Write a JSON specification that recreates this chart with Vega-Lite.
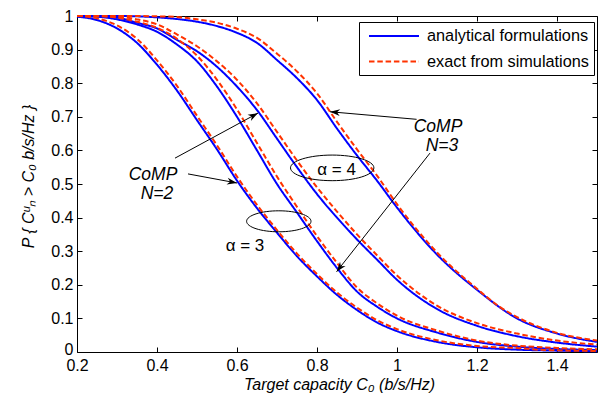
{
  "$schema": "https://vega.github.io/schema/vega-lite/v6.json",
  "width": 520,
  "height": 336,
  "autosize": {"type": "none"},
  "padding": {"left": 77, "top": 16, "right": 12, "bottom": 46},
  "background": "white",
  "config": {
    "font": "Liberation Sans",
    "view": {"stroke": "black", "strokeWidth": 1},
    "axis": {
      "grid": false,
      "domain": false,
      "labelFont": "Liberation Sans",
      "labelFontSize": 16,
      "labelColor": "black",
      "labelFlush": false,
      "labelOverlap": false,
      "tickColor": "black",
      "tickSize": -5,
      "titleFont": "Liberation Sans",
      "titleFontSize": 16,
      "titleFontStyle": "italic",
      "titleFontWeight": "normal",
      "titleColor": "black"
    },
    "legend": {
      "orient": "none",
      "legendX": 282,
      "legendY": 6,
      "strokeColor": "black",
      "fillColor": "white",
      "padding": 5,
      "symbolType": "M-0.5,0H5.75",
      "symbolSize": 256,
      "symbolStrokeWidth": 2,
      "labelFont": "Liberation Sans",
      "labelFontSize": 16.3,
      "labelLimit": 400,
      "labelColor": "black",
      "labelOffset": 45,
      "rowPadding": 7.5
    }
  },
  "resolve": {"axis": {"x": "independent", "y": "independent"}},
  "layer": [
    {
      "data": {
        "values": [
          {"curve": "a3N2", "type": "analytical formulations", "x": 0.2, "y": 0.998},
          {"curve": "a3N2", "type": "analytical formulations", "x": 0.25, "y": 0.988},
          {"curve": "a3N2", "type": "analytical formulations", "x": 0.3, "y": 0.963},
          {"curve": "a3N2", "type": "analytical formulations", "x": 0.35, "y": 0.92},
          {"curve": "a3N2", "type": "analytical formulations", "x": 0.4, "y": 0.855},
          {"curve": "a3N2", "type": "analytical formulations", "x": 0.45, "y": 0.778},
          {"curve": "a3N2", "type": "analytical formulations", "x": 0.5, "y": 0.69},
          {"curve": "a3N2", "type": "analytical formulations", "x": 0.55, "y": 0.603},
          {"curve": "a3N2", "type": "analytical formulations", "x": 0.6, "y": 0.51},
          {"curve": "a3N2", "type": "analytical formulations", "x": 0.65, "y": 0.428},
          {"curve": "a3N2", "type": "analytical formulations", "x": 0.7, "y": 0.355},
          {"curve": "a3N2", "type": "analytical formulations", "x": 0.75, "y": 0.285},
          {"curve": "a3N2", "type": "analytical formulations", "x": 0.8, "y": 0.225},
          {"curve": "a3N2", "type": "analytical formulations", "x": 0.85, "y": 0.17},
          {"curve": "a3N2", "type": "analytical formulations", "x": 0.9, "y": 0.125},
          {"curve": "a3N2", "type": "analytical formulations", "x": 0.95, "y": 0.088},
          {"curve": "a3N2", "type": "analytical formulations", "x": 1.0, "y": 0.062},
          {"curve": "a3N2", "type": "analytical formulations", "x": 1.1, "y": 0.03},
          {"curve": "a3N2", "type": "analytical formulations", "x": 1.2, "y": 0.014},
          {"curve": "a3N2", "type": "analytical formulations", "x": 1.3, "y": 0.007},
          {"curve": "a3N2", "type": "analytical formulations", "x": 1.4, "y": 0.004},
          {"curve": "a3N2", "type": "analytical formulations", "x": 1.5, "y": 0.002},

          {"curve": "a3N3", "type": "analytical formulations", "x": 0.2, "y": 1.0},
          {"curve": "a3N3", "type": "analytical formulations", "x": 0.25, "y": 0.998},
          {"curve": "a3N3", "type": "analytical formulations", "x": 0.3, "y": 0.99},
          {"curve": "a3N3", "type": "analytical formulations", "x": 0.35, "y": 0.975},
          {"curve": "a3N3", "type": "analytical formulations", "x": 0.4, "y": 0.953},
          {"curve": "a3N3", "type": "analytical formulations", "x": 0.45, "y": 0.915},
          {"curve": "a3N3", "type": "analytical formulations", "x": 0.5, "y": 0.865},
          {"curve": "a3N3", "type": "analytical formulations", "x": 0.55, "y": 0.79},
          {"curve": "a3N3", "type": "analytical formulations", "x": 0.6, "y": 0.7},
          {"curve": "a3N3", "type": "analytical formulations", "x": 0.65, "y": 0.6},
          {"curve": "a3N3", "type": "analytical formulations", "x": 0.7, "y": 0.5},
          {"curve": "a3N3", "type": "analytical formulations", "x": 0.75, "y": 0.415},
          {"curve": "a3N3", "type": "analytical formulations", "x": 0.8, "y": 0.33},
          {"curve": "a3N3", "type": "analytical formulations", "x": 0.85, "y": 0.25},
          {"curve": "a3N3", "type": "analytical formulations", "x": 0.9, "y": 0.18},
          {"curve": "a3N3", "type": "analytical formulations", "x": 0.95, "y": 0.135},
          {"curve": "a3N3", "type": "analytical formulations", "x": 1.0, "y": 0.1},
          {"curve": "a3N3", "type": "analytical formulations", "x": 1.1, "y": 0.058},
          {"curve": "a3N3", "type": "analytical formulations", "x": 1.2, "y": 0.03},
          {"curve": "a3N3", "type": "analytical formulations", "x": 1.3, "y": 0.016},
          {"curve": "a3N3", "type": "analytical formulations", "x": 1.4, "y": 0.009},
          {"curve": "a3N3", "type": "analytical formulations", "x": 1.5, "y": 0.006},

          {"curve": "a4N2", "type": "analytical formulations", "x": 0.2, "y": 1.0},
          {"curve": "a4N2", "type": "analytical formulations", "x": 0.25, "y": 0.999},
          {"curve": "a4N2", "type": "analytical formulations", "x": 0.3, "y": 0.995},
          {"curve": "a4N2", "type": "analytical formulations", "x": 0.35, "y": 0.98},
          {"curve": "a4N2", "type": "analytical formulations", "x": 0.4, "y": 0.963},
          {"curve": "a4N2", "type": "analytical formulations", "x": 0.45, "y": 0.929},
          {"curve": "a4N2", "type": "analytical formulations", "x": 0.5, "y": 0.895},
          {"curve": "a4N2", "type": "analytical formulations", "x": 0.55, "y": 0.849},
          {"curve": "a4N2", "type": "analytical formulations", "x": 0.6, "y": 0.79},
          {"curve": "a4N2", "type": "analytical formulations", "x": 0.65, "y": 0.72},
          {"curve": "a4N2", "type": "analytical formulations", "x": 0.7, "y": 0.635},
          {"curve": "a4N2", "type": "analytical formulations", "x": 0.75, "y": 0.55},
          {"curve": "a4N2", "type": "analytical formulations", "x": 0.8, "y": 0.47},
          {"curve": "a4N2", "type": "analytical formulations", "x": 0.85, "y": 0.4},
          {"curve": "a4N2", "type": "analytical formulations", "x": 0.9, "y": 0.335},
          {"curve": "a4N2", "type": "analytical formulations", "x": 0.95, "y": 0.275},
          {"curve": "a4N2", "type": "analytical formulations", "x": 1.0, "y": 0.215},
          {"curve": "a4N2", "type": "analytical formulations", "x": 1.1, "y": 0.128},
          {"curve": "a4N2", "type": "analytical formulations", "x": 1.2, "y": 0.078},
          {"curve": "a4N2", "type": "analytical formulations", "x": 1.3, "y": 0.047},
          {"curve": "a4N2", "type": "analytical formulations", "x": 1.4, "y": 0.028},
          {"curve": "a4N2", "type": "analytical formulations", "x": 1.5, "y": 0.016},

          {"curve": "a4N3", "type": "analytical formulations", "x": 0.2, "y": 1.0},
          {"curve": "a4N3", "type": "analytical formulations", "x": 0.3, "y": 1.0},
          {"curve": "a4N3", "type": "analytical formulations", "x": 0.35, "y": 0.999},
          {"curve": "a4N3", "type": "analytical formulations", "x": 0.4, "y": 0.996},
          {"curve": "a4N3", "type": "analytical formulations", "x": 0.45, "y": 0.991},
          {"curve": "a4N3", "type": "analytical formulations", "x": 0.5, "y": 0.983},
          {"curve": "a4N3", "type": "analytical formulations", "x": 0.55, "y": 0.97},
          {"curve": "a4N3", "type": "analytical formulations", "x": 0.6, "y": 0.95},
          {"curve": "a4N3", "type": "analytical formulations", "x": 0.65, "y": 0.92},
          {"curve": "a4N3", "type": "analytical formulations", "x": 0.7, "y": 0.869},
          {"curve": "a4N3", "type": "analytical formulations", "x": 0.75, "y": 0.815},
          {"curve": "a4N3", "type": "analytical formulations", "x": 0.8, "y": 0.75},
          {"curve": "a4N3", "type": "analytical formulations", "x": 0.85, "y": 0.665},
          {"curve": "a4N3", "type": "analytical formulations", "x": 0.9, "y": 0.585},
          {"curve": "a4N3", "type": "analytical formulations", "x": 0.95, "y": 0.51},
          {"curve": "a4N3", "type": "analytical formulations", "x": 1.0, "y": 0.43},
          {"curve": "a4N3", "type": "analytical formulations", "x": 1.1, "y": 0.29},
          {"curve": "a4N3", "type": "analytical formulations", "x": 1.2, "y": 0.185},
          {"curve": "a4N3", "type": "analytical formulations", "x": 1.3, "y": 0.1},
          {"curve": "a4N3", "type": "analytical formulations", "x": 1.4, "y": 0.055},
          {"curve": "a4N3", "type": "analytical formulations", "x": 1.5, "y": 0.03},

          {"curve": "a3N2s", "type": "exact from simulations", "x": 0.2, "y": 1.0},
          {"curve": "a3N2s", "type": "exact from simulations", "x": 0.25, "y": 0.993},
          {"curve": "a3N2s", "type": "exact from simulations", "x": 0.3, "y": 0.972},
          {"curve": "a3N2s", "type": "exact from simulations", "x": 0.35, "y": 0.932},
          {"curve": "a3N2s", "type": "exact from simulations", "x": 0.4, "y": 0.868},
          {"curve": "a3N2s", "type": "exact from simulations", "x": 0.45, "y": 0.792},
          {"curve": "a3N2s", "type": "exact from simulations", "x": 0.5, "y": 0.703},
          {"curve": "a3N2s", "type": "exact from simulations", "x": 0.55, "y": 0.615},
          {"curve": "a3N2s", "type": "exact from simulations", "x": 0.6, "y": 0.522},
          {"curve": "a3N2s", "type": "exact from simulations", "x": 0.65, "y": 0.438},
          {"curve": "a3N2s", "type": "exact from simulations", "x": 0.7, "y": 0.363},
          {"curve": "a3N2s", "type": "exact from simulations", "x": 0.75, "y": 0.293},
          {"curve": "a3N2s", "type": "exact from simulations", "x": 0.8, "y": 0.232},
          {"curve": "a3N2s", "type": "exact from simulations", "x": 0.85, "y": 0.177},
          {"curve": "a3N2s", "type": "exact from simulations", "x": 0.9, "y": 0.132},
          {"curve": "a3N2s", "type": "exact from simulations", "x": 0.95, "y": 0.095},
          {"curve": "a3N2s", "type": "exact from simulations", "x": 1.0, "y": 0.068},
          {"curve": "a3N2s", "type": "exact from simulations", "x": 1.1, "y": 0.035},
          {"curve": "a3N2s", "type": "exact from simulations", "x": 1.2, "y": 0.018},
          {"curve": "a3N2s", "type": "exact from simulations", "x": 1.25, "y": 0.014},
          {"curve": "a3N2s", "type": "exact from simulations", "x": 1.3, "y": 0.012},
          {"curve": "a3N2s", "type": "exact from simulations", "x": 1.35, "y": 0.007},
          {"curve": "a3N2s", "type": "exact from simulations", "x": 1.4, "y": 0.005},
          {"curve": "a3N2s", "type": "exact from simulations", "x": 1.5, "y": 0.003},

          {"curve": "a3N3s", "type": "exact from simulations", "x": 0.2, "y": 1.0},
          {"curve": "a3N3s", "type": "exact from simulations", "x": 0.25, "y": 1.0},
          {"curve": "a3N3s", "type": "exact from simulations", "x": 0.3, "y": 0.995},
          {"curve": "a3N3s", "type": "exact from simulations", "x": 0.35, "y": 0.983},
          {"curve": "a3N3s", "type": "exact from simulations", "x": 0.4, "y": 0.965},
          {"curve": "a3N3s", "type": "exact from simulations", "x": 0.45, "y": 0.932},
          {"curve": "a3N3s", "type": "exact from simulations", "x": 0.5, "y": 0.882},
          {"curve": "a3N3s", "type": "exact from simulations", "x": 0.55, "y": 0.81},
          {"curve": "a3N3s", "type": "exact from simulations", "x": 0.6, "y": 0.722},
          {"curve": "a3N3s", "type": "exact from simulations", "x": 0.65, "y": 0.622},
          {"curve": "a3N3s", "type": "exact from simulations", "x": 0.7, "y": 0.522},
          {"curve": "a3N3s", "type": "exact from simulations", "x": 0.75, "y": 0.432},
          {"curve": "a3N3s", "type": "exact from simulations", "x": 0.8, "y": 0.345},
          {"curve": "a3N3s", "type": "exact from simulations", "x": 0.85, "y": 0.265},
          {"curve": "a3N3s", "type": "exact from simulations", "x": 0.9, "y": 0.192},
          {"curve": "a3N3s", "type": "exact from simulations", "x": 0.95, "y": 0.145},
          {"curve": "a3N3s", "type": "exact from simulations", "x": 1.0, "y": 0.108},
          {"curve": "a3N3s", "type": "exact from simulations", "x": 1.1, "y": 0.064},
          {"curve": "a3N3s", "type": "exact from simulations", "x": 1.2, "y": 0.034},
          {"curve": "a3N3s", "type": "exact from simulations", "x": 1.3, "y": 0.019},
          {"curve": "a3N3s", "type": "exact from simulations", "x": 1.4, "y": 0.012},
          {"curve": "a3N3s", "type": "exact from simulations", "x": 1.5, "y": 0.008},

          {"curve": "a4N2s", "type": "exact from simulations", "x": 0.2, "y": 1.0},
          {"curve": "a4N2s", "type": "exact from simulations", "x": 0.3, "y": 0.998},
          {"curve": "a4N2s", "type": "exact from simulations", "x": 0.35, "y": 0.99},
          {"curve": "a4N2s", "type": "exact from simulations", "x": 0.4, "y": 0.975},
          {"curve": "a4N2s", "type": "exact from simulations", "x": 0.45, "y": 0.945},
          {"curve": "a4N2s", "type": "exact from simulations", "x": 0.5, "y": 0.91},
          {"curve": "a4N2s", "type": "exact from simulations", "x": 0.55, "y": 0.865},
          {"curve": "a4N2s", "type": "exact from simulations", "x": 0.6, "y": 0.81},
          {"curve": "a4N2s", "type": "exact from simulations", "x": 0.65, "y": 0.74},
          {"curve": "a4N2s", "type": "exact from simulations", "x": 0.7, "y": 0.655},
          {"curve": "a4N2s", "type": "exact from simulations", "x": 0.75, "y": 0.57},
          {"curve": "a4N2s", "type": "exact from simulations", "x": 0.8, "y": 0.49},
          {"curve": "a4N2s", "type": "exact from simulations", "x": 0.85, "y": 0.418},
          {"curve": "a4N2s", "type": "exact from simulations", "x": 0.9, "y": 0.35},
          {"curve": "a4N2s", "type": "exact from simulations", "x": 0.95, "y": 0.288},
          {"curve": "a4N2s", "type": "exact from simulations", "x": 1.0, "y": 0.228},
          {"curve": "a4N2s", "type": "exact from simulations", "x": 1.1, "y": 0.138},
          {"curve": "a4N2s", "type": "exact from simulations", "x": 1.2, "y": 0.086},
          {"curve": "a4N2s", "type": "exact from simulations", "x": 1.3, "y": 0.055},
          {"curve": "a4N2s", "type": "exact from simulations", "x": 1.4, "y": 0.034},
          {"curve": "a4N2s", "type": "exact from simulations", "x": 1.5, "y": 0.022},

          {"curve": "a4N3s", "type": "exact from simulations", "x": 0.2, "y": 1.0},
          {"curve": "a4N3s", "type": "exact from simulations", "x": 0.35, "y": 1.0},
          {"curve": "a4N3s", "type": "exact from simulations", "x": 0.4, "y": 0.999},
          {"curve": "a4N3s", "type": "exact from simulations", "x": 0.45, "y": 0.997},
          {"curve": "a4N3s", "type": "exact from simulations", "x": 0.5, "y": 0.99},
          {"curve": "a4N3s", "type": "exact from simulations", "x": 0.55, "y": 0.98},
          {"curve": "a4N3s", "type": "exact from simulations", "x": 0.6, "y": 0.962},
          {"curve": "a4N3s", "type": "exact from simulations", "x": 0.65, "y": 0.935},
          {"curve": "a4N3s", "type": "exact from simulations", "x": 0.7, "y": 0.888},
          {"curve": "a4N3s", "type": "exact from simulations", "x": 0.75, "y": 0.835},
          {"curve": "a4N3s", "type": "exact from simulations", "x": 0.8, "y": 0.77},
          {"curve": "a4N3s", "type": "exact from simulations", "x": 0.85, "y": 0.685},
          {"curve": "a4N3s", "type": "exact from simulations", "x": 0.9, "y": 0.603},
          {"curve": "a4N3s", "type": "exact from simulations", "x": 0.95, "y": 0.525},
          {"curve": "a4N3s", "type": "exact from simulations", "x": 1.0, "y": 0.44},
          {"curve": "a4N3s", "type": "exact from simulations", "x": 1.1, "y": 0.296},
          {"curve": "a4N3s", "type": "exact from simulations", "x": 1.2, "y": 0.188},
          {"curve": "a4N3s", "type": "exact from simulations", "x": 1.25, "y": 0.14},
          {"curve": "a4N3s", "type": "exact from simulations", "x": 1.3, "y": 0.104},
          {"curve": "a4N3s", "type": "exact from simulations", "x": 1.4, "y": 0.057},
          {"curve": "a4N3s", "type": "exact from simulations", "x": 1.5, "y": 0.034}
        ]
      },
      "mark": {"type": "line", "interpolate": "monotone", "strokeWidth": 2},
      "encoding": {
        "x": {
          "field": "x", "type": "quantitative",
          "scale": {"domain": [0.2, 1.5], "nice": false, "zero": false},
          "axis": {
            "values": [0.2, 0.4, 0.6, 0.8, 1, 1.2, 1.4],
            "format": "~g",
            "labelPadding": 10,
            "title": "Target capacity C₀ (b/s/Hz)",
            "titleX": 262,
            "titleY": 32.5,
            "titleBaseline": "middle"
          }
        },
        "y": {
          "field": "y", "type": "quantitative",
          "scale": {"domain": [0, 1], "nice": false},
          "axis": {
            "values": [0, 0.1, 0.2, 0.3, 0.4, 0.5, 0.6, 0.7, 0.8, 0.9, 1],
            "format": "~g",
            "labelPadding": 9,
            "labelOffset": {"condition": {"test": "datum.value === 0", "value": -3}, "value": 0},
            "title": "P { Cᵘₙ > C₀   b/s/Hz }",
            "titleX": -49,
            "titleY": 160,
            "titleBaseline": "middle"
          }
        },
        "detail": {"field": "curve"},
        "color": {
          "field": "type", "type": "nominal",
          "scale": {"domain": ["analytical formulations", "exact from simulations"], "range": ["#0000ff", "#ff3300"]},
          "legend": {"title": null}
        },
        "strokeDash": {
          "field": "type", "type": "nominal",
          "scale": {"domain": ["analytical formulations", "exact from simulations"], "range": [[1, 0], [5.5, 2.8]]},
          "legend": {"title": null}
        }
      }
    },
    {
      "data": {
        "values": [
          {"label": "CoMP", "x": 0.39, "y": 0.527},
          {"label": "N=2", "x": 0.4, "y": 0.47},
          {"label": "CoMP", "x": 1.1025, "y": 0.67},
          {"label": "N=3", "x": 1.1125, "y": 0.613}
        ]
      },
      "mark": {"type": "text", "font": "Liberation Sans", "fontSize": 17.5, "fontStyle": "italic", "color": "black", "align": "center", "baseline": "middle"},
      "encoding": {
        "x": {
          "field": "x", "type": "quantitative",
          "axis": {"orient": "top", "labels": false, "title": null, "values": [0.2, 0.4, 0.6, 0.8, 1, 1.2, 1.4]}
        },
        "y": {
          "field": "y", "type": "quantitative",
          "axis": {"orient": "right", "labels": false, "title": null, "values": [0, 0.1, 0.2, 0.3, 0.4, 0.5, 0.6, 0.7, 0.8, 0.9, 1]}
        },
        "text": {"field": "label"}
      }
    },
    {
      "data": {
        "values": [
          {"label": "α = 4", "x": 0.849, "y": 0.542},
          {"label": "α = 3", "x": 0.62, "y": 0.315}
        ]
      },
      "mark": {"type": "text", "font": "Liberation Sans", "fontSize": 17, "color": "black", "align": "center", "baseline": "middle"},
      "encoding": {
        "x": {"field": "x", "type": "quantitative", "axis": null},
        "y": {"field": "y", "type": "quantitative", "axis": null},
        "text": {"field": "label"}
      }
    },
    {
      "data": {
        "values": [
          {"x": 0.445, "y": 0.577, "x2": 0.6525, "y2": 0.711},
          {"x": 0.4775, "y": 0.53, "x2": 0.6, "y2": 0.503},
          {"x": 1.049, "y": 0.6925, "x2": 0.8325, "y2": 0.715},
          {"x": 1.0825, "y": 0.592, "x2": 0.849, "y2": 0.239}
        ]
      },
      "mark": {"type": "rule", "color": "black", "strokeWidth": 1},
      "encoding": {
        "x": {"field": "x", "type": "quantitative", "axis": null},
        "y": {"field": "y", "type": "quantitative", "axis": null},
        "x2": {"field": "x2"},
        "y2": {"field": "y2"}
      }
    },
    {
      "data": {
        "values": [
          {"x": 0.445, "y": 0.577, "x2": 0.6525, "y2": 0.711},
          {"x": 0.4775, "y": 0.53, "x2": 0.6, "y2": 0.503},
          {"x": 1.049, "y": 0.6925, "x2": 0.8325, "y2": 0.715},
          {"x": 1.0825, "y": 0.592, "x2": 0.849, "y2": 0.239}
        ]
      },
      "transform": [
        {"calculate": "atan2(-(datum.y2 - datum.y) * 336, (datum.x2 - datum.x) * 400) * 180 / PI", "as": "ang"}
      ],
      "mark": {"type": "point", "shape": "M0,0L-2,-0.7L-1.4,0L-2,0.7Z", "filled": true, "color": "black", "size": 100, "opacity": 1},
      "encoding": {
        "x": {"field": "x2", "type": "quantitative", "axis": null},
        "y": {"field": "y2", "type": "quantitative", "axis": null},
        "angle": {"field": "ang", "type": "quantitative", "scale": null}
      }
    },
    {
      "data": {"values": [{"x": 0.838, "y": 0.548}]},
      "mark": {"type": "point", "shape": "M-1,0A1,0.307,0,0,1,1,0A1,0.307,0,0,1,-1,0Z", "filled": false, "color": "black", "strokeWidth": 1, "size": 6956, "opacity": 1},
      "encoding": {
        "x": {"field": "x", "type": "quantitative", "axis": null},
        "y": {"field": "y", "type": "quantitative", "axis": null}
      }
    },
    {
      "data": {"values": [{"x": 0.7045, "y": 0.389}]},
      "mark": {"type": "point", "shape": "M-1,0A1,0.326,0,0,1,1,0A1,0.326,0,0,1,-1,0Z", "filled": false, "color": "black", "strokeWidth": 1, "size": 4147, "opacity": 1},
      "encoding": {
        "x": {"field": "x", "type": "quantitative", "axis": null},
        "y": {"field": "y", "type": "quantitative", "axis": null}
      }
    }
  ]
}
